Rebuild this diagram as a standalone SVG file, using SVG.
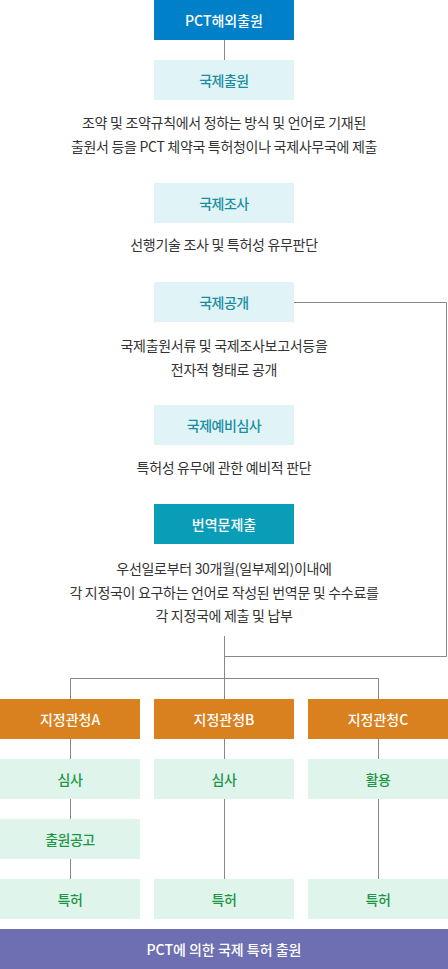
<svg xmlns="http://www.w3.org/2000/svg" width="448" height="969" viewBox="0 0 448 969">
<style>
text{font-family:"Noto Sans CJK KR","Noto Sans",sans-serif;text-anchor:middle;dominant-baseline:central}
.lbl{font-size:14px;font-weight:500;letter-spacing:-0.5px}
.w{fill:#ffffff;letter-spacing:0}
.t{fill:#1a8ea0}
.g{fill:#1e9546}
.d{font-size:14px;fill:#333333;letter-spacing:-0.3px}
.bt{fill:#e0f4f7}
.bg{fill:#dff5eb}
.bo{fill:#d9801f}
.conn{stroke:#888888;stroke-width:1;fill:none}
</style>
<g id="connectors">
<path class="conn" d="M224.5 40V60"/>
<path class="conn" d="M294 302.5H446.5V656.5H224.5"/>
<path class="conn" d="M224.5 636V699"/>
<path class="conn" d="M70.5 699V678.5H378.5V699"/>
<path class="conn" d="M70.5 739V759M70.5 799V819M70.5 859V879"/>
<path class="conn" d="M224.5 739V759M224.5 799V879"/>
<path class="conn" d="M378.5 739V759M378.5 799V879"/>
</g>
<g id="pct-overseas"><rect x="154" y="0" width="140" height="40" fill="#0080c8"/><text class="lbl w" x="224" y="20">PCT해외출원</text></g>
<g id="intl-filing"><rect class="bt" x="154" y="60" width="140" height="40"/><text class="lbl t" x="224" y="80">국제출원</text></g>
<g id="intl-filing-desc"><text class="d" x="224" y="122">조약 및 조약규칙에서 정하는 방식 및 언어로 기재된</text><text class="d" x="224" y="146">출원서 등을 PCT 체약국 특허청이나 국제사무국에 제출</text></g>
<g id="intl-search"><rect class="bt" x="154" y="183" width="140" height="40"/><text class="lbl t" x="224" y="203">국제조사</text></g>
<g id="intl-search-desc"><text class="d" x="224" y="244">선행기술 조사 및 특허성 유무판단</text></g>
<g id="intl-publication"><rect class="bt" x="154" y="282" width="140" height="40"/><text class="lbl t" x="224" y="302">국제공개</text></g>
<g id="intl-publication-desc"><text class="d" x="224" y="345">국제출원서류 및 국제조사보고서등을</text><text class="d" x="224" y="369">전자적 형태로 공개</text></g>
<g id="intl-prelim"><rect class="bt" x="154" y="405" width="140" height="40"/><text class="lbl t" x="224" y="425">국제예비심사</text></g>
<g id="intl-prelim-desc"><text class="d" x="224" y="467">특허성 유무에 관한 예비적 판단</text></g>
<g id="translation"><rect x="154" y="504" width="140" height="40" fill="#0a9db8"/><text class="lbl w" x="224" y="524">번역문제출</text></g>
<g id="translation-desc"><text class="d" x="224" y="568">우선일로부터 30개월(일부제외)이내에</text><text class="d" x="224" y="592">각 지정국이 요구하는 언어로 작성된 번역문 및 수수료를</text><text class="d" x="224" y="615">각 지정국에 제출 및 납부</text></g>
<g id="office-a"><rect class="bo" x="0" y="699" width="140" height="40"/><text class="lbl w" x="70" y="719">지정관청A</text></g>
<g id="office-b"><rect class="bo" x="154" y="699" width="140" height="40"/><text class="lbl w" x="224" y="719">지정관청B</text></g>
<g id="office-c"><rect class="bo" x="308" y="699" width="140" height="40"/><text class="lbl w" x="378" y="719">지정관청C</text></g>
<g id="exam-a"><rect class="bg" x="0" y="759" width="140" height="40"/><text class="lbl g" x="70" y="779">심사</text></g>
<g id="exam-b"><rect class="bg" x="154" y="759" width="140" height="40"/><text class="lbl g" x="224" y="779">심사</text></g>
<g id="use-c"><rect class="bg" x="308" y="759" width="140" height="40"/><text class="lbl g" x="378" y="779">활용</text></g>
<g id="pub-a"><rect class="bg" x="0" y="819" width="140" height="40"/><text class="lbl g" x="70" y="839">출원공고</text></g>
<g id="patent-a"><rect class="bg" x="0" y="879" width="140" height="40"/><text class="lbl g" x="70" y="899">특허</text></g>
<g id="patent-b"><rect class="bg" x="154" y="879" width="140" height="40"/><text class="lbl g" x="224" y="899">특허</text></g>
<g id="patent-c"><rect class="bg" x="308" y="879" width="140" height="40"/><text class="lbl g" x="378" y="899">특허</text></g>
<g id="pct-intl-filing"><rect x="0" y="929" width="448" height="40" fill="#6d6fb2"/><text class="lbl w" x="224" y="949">PCT에 의한 국제 특허 출원</text></g>
</svg>
